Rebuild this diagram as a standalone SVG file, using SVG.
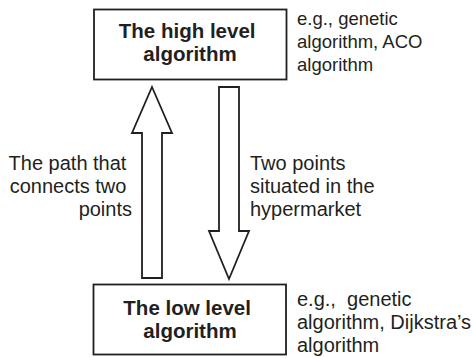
<svg xmlns="http://www.w3.org/2000/svg" width="473" height="358" viewBox="0 0 473 358">
  <style>
    .box { fill: #ffffff; stroke: #231f20; stroke-width: 1.8; }
    .arrow { fill: #ffffff; stroke: #231f20; stroke-width: 1.8; stroke-linejoin: miter; }
    .title { font-family: "Liberation Sans", Arial, sans-serif; font-weight: bold; font-size: 20.5px; fill: #231f20; text-anchor: middle; }
    .note { font-family: "Liberation Sans", Arial, sans-serif; font-size: 20px; fill: #231f20; }
    .note-sm { font-family: "Liberation Sans", Arial, sans-serif; font-size: 18.5px; fill: #231f20; }
  </style>
  <rect width="473" height="358" fill="#ffffff"/>

  <g id="connectors">
    <polygon id="arrow-up" class="arrow" points="152,87 172,133 162,133 162,278 142,278 142,133 132,133"/>
    <polygon id="arrow-down" class="arrow" points="219,87 239,87 239,231 249,231 229,279 209,231 219,231"/>
    <text id="label-up" class="note" text-anchor="end">
      <tspan x="132" y="170">The path that</tspan>
      <tspan x="132" y="193">connects two</tspan>
      <tspan x="132" y="216">points</tspan>
    </text>
    <text id="label-down" class="note">
      <tspan x="250" y="170">Two points</tspan>
      <tspan x="250" y="193">situated in the</tspan>
      <tspan x="250" y="216">hypermarket</tspan>
    </text>
  </g>

  <g id="high-level">
    <rect class="box" x="94" y="9.5" width="192.5" height="70"/>
    <text class="title">
      <tspan x="190" y="38">The high level</tspan>
      <tspan x="190" y="61">algorithm</tspan>
    </text>
  </g>

  <g id="high-level-note">
    <text class="note-sm">
      <tspan x="297" y="25">e.g., genetic</tspan>
      <tspan x="297" y="48">algorithm, ACO</tspan>
      <tspan x="297" y="71">algorithm</tspan>
    </text>
  </g>

  <g id="low-level">
    <rect class="box" x="93.5" y="284.5" width="192.5" height="70"/>
    <text class="title">
      <tspan x="190" y="315">The low level</tspan>
      <tspan x="190" y="338">algorithm</tspan>
    </text>
  </g>

  <g id="low-level-note">
    <text class="note" xml:space="preserve"><tspan x="297" y="306">e.g.,  genetic</tspan><tspan x="297" y="329">algorithm, Dijkstra’s</tspan><tspan x="297" y="352">algorithm</tspan></text>
  </g>
</svg>
